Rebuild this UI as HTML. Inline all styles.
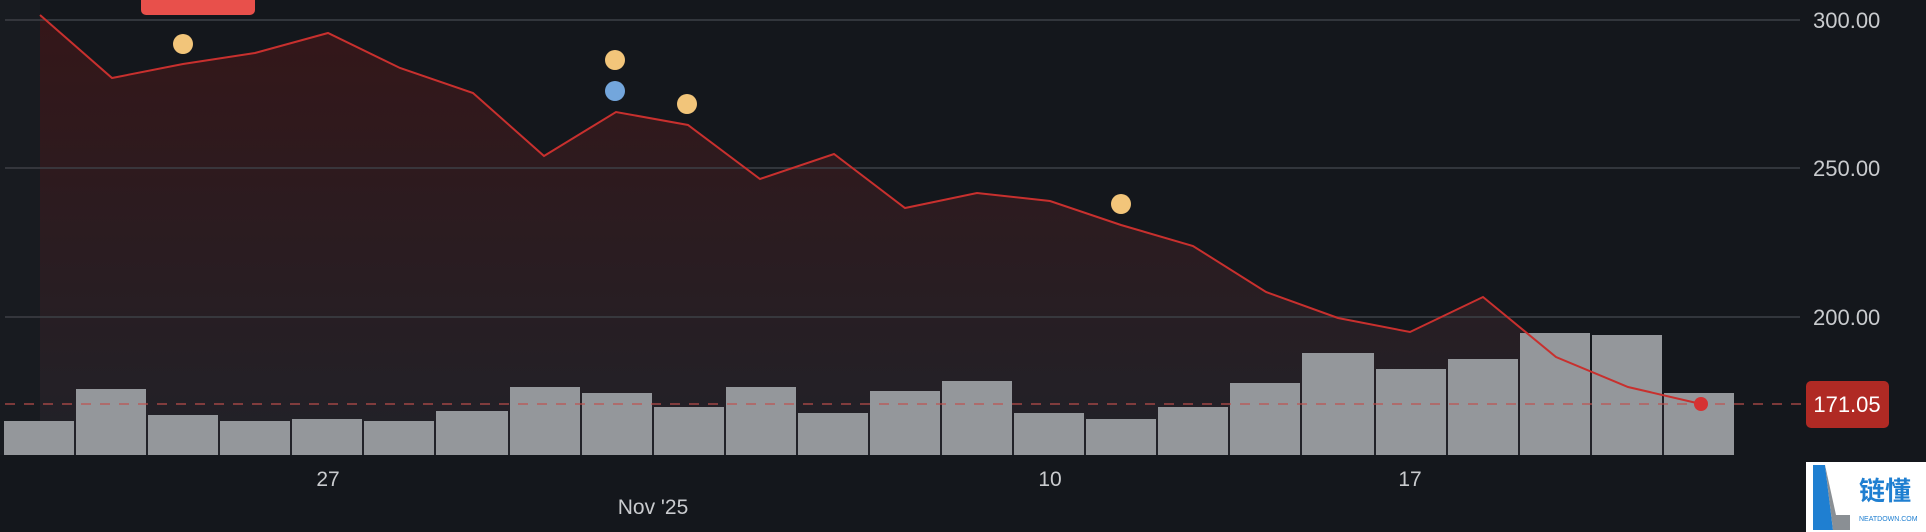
<!DOCTYPE html>
<html><head><meta charset="utf-8"><style>
html,body{margin:0;padding:0;background:#14171c;width:1926px;height:532px;overflow:hidden}
svg{display:block}
text{font-family:"Liberation Sans","Noto Sans CJK SC",sans-serif}
</style></head><body>
<svg width="1926" height="532" viewBox="0 0 1926 532">
<defs>
<linearGradient id="ag" x1="0" y1="0" x2="0" y2="1">
<stop offset="0" stop-color="#3a1618" stop-opacity="0.85"/>
<stop offset="1" stop-color="#22232a" stop-opacity="0.9"/>
</linearGradient>
</defs>
<rect width="1926" height="532" fill="#14171c"/>
<rect x="0" y="0" width="40" height="455" fill="#181b20"/>
<polygon fill="url(#ag)" points="40,15 112,78 183,64 255,53 328,33 400,68 473,93 544,156 616,112 688,125 760,179 834,154 905,208 977,193 1050,201 1121,225 1193,246 1266,292 1338,318 1410,332 1483,297 1556,357 1628,387 1701,404 1701,455 40,455"/>
<g stroke="#3d4046" stroke-width="1.5">
<line x1="5" y1="20" x2="1800" y2="20"/>
<line x1="5" y1="168" x2="1800" y2="168"/>
<line x1="5" y1="317" x2="1800" y2="317"/>
</g>
<g fill="#94979b">
<rect x="4" y="421" width="70" height="34"/>
<rect x="76" y="389" width="70" height="66"/>
<rect x="148" y="415" width="70" height="40"/>
<rect x="220" y="421" width="70" height="34"/>
<rect x="292" y="419" width="70" height="36"/>
<rect x="364" y="421" width="70" height="34"/>
<rect x="436" y="411" width="72" height="44"/>
<rect x="510" y="387" width="70" height="68"/>
<rect x="582" y="393" width="70" height="62"/>
<rect x="654" y="407" width="70" height="48"/>
<rect x="726" y="387" width="70" height="68"/>
<rect x="798" y="413" width="70" height="42"/>
<rect x="870" y="391" width="70" height="64"/>
<rect x="942" y="381" width="70" height="74"/>
<rect x="1014" y="413" width="70" height="42"/>
<rect x="1086" y="419" width="70" height="36"/>
<rect x="1158" y="407" width="70" height="48"/>
<rect x="1230" y="383" width="70" height="72"/>
<rect x="1302" y="353" width="72" height="102"/>
<rect x="1376" y="369" width="70" height="86"/>
<rect x="1448" y="359" width="70" height="96"/>
<rect x="1520" y="333" width="70" height="122"/>
<rect x="1592" y="335" width="70" height="120"/>
<rect x="1664" y="393" width="70" height="62"/>
</g>
<line x1="5" y1="404" x2="1805" y2="404" stroke="#c0504d" stroke-opacity="0.6" stroke-width="2" stroke-dasharray="10 9"/>
<polyline fill="none" stroke="#c8302e" stroke-width="2" points="40,15 112,78 183,64 255,53 328,33 400,68 473,93 544,156 616,112 688,125 760,179 834,154 905,208 977,193 1050,201 1121,225 1193,246 1266,292 1338,318 1410,332 1483,297 1556,357 1628,387 1701,404"/>
<circle cx="1701" cy="404" r="7" fill="#d63232"/>
<g fill="#f2c57a">
<circle cx="183" cy="44" r="10"/>
<circle cx="615" cy="60" r="10"/>
<circle cx="687" cy="104" r="10"/>
<circle cx="1121" cy="204" r="10"/>
</g>
<circle cx="615" cy="91" r="10" fill="#73a6dc"/>
<rect x="141" y="-6" width="114" height="21" rx="5" fill="#e8504b"/>
<g fill="#c9cbce" font-size="22">
<text x="1813" y="28">300.00</text>
<text x="1813" y="176">250.00</text>
<text x="1813" y="325">200.00</text>
</g>
<rect x="1806" y="381" width="83" height="47" rx="5" fill="#b02a24"/>
<text x="1847" y="412" font-size="22" fill="#fff" text-anchor="middle">171.05</text>
<g fill="#c9cbce" font-size="21" text-anchor="middle">
<text x="328" y="486">27</text>
<text x="1050" y="486">10</text>
<text x="1410" y="486">17</text>
<text x="653" y="514">Nov '25</text>
</g>
<rect x="1806" y="462" width="120" height="70" fill="#fff"/>
<polygon points="1813,465 1825,465 1833,530 1813,530" fill="#1f7fd1"/>
<polygon points="1825,465 1833,530 1850,530 1850,515 1836,515" fill="#8a8f94"/>
<text x="1859" y="500" font-size="26" fill="#1f7fd1" font-weight="bold">链懂</text>
<text x="1859" y="521" font-size="7" fill="#1f7fd1">NEATDOWN.COM</text>
</svg>
</body></html>
